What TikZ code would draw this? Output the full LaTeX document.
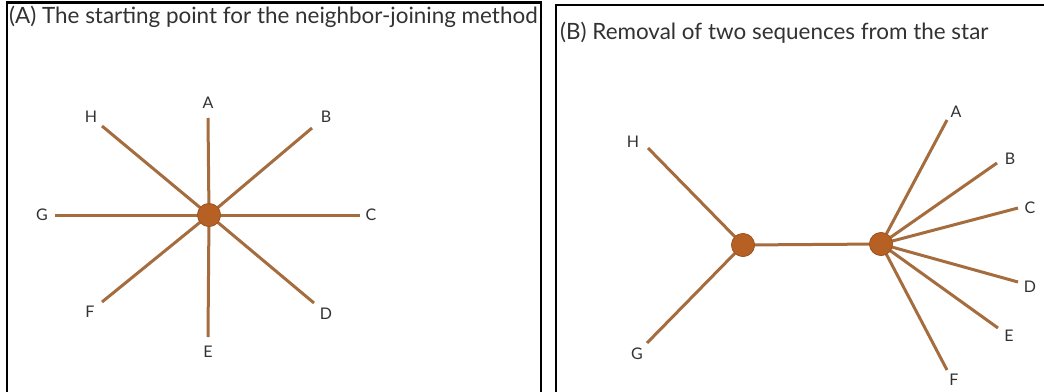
\documentclass[tikz,border=0pt]{standalone}
\usepackage{fontspec}
\setmainfont{Lato}
\definecolor{branch}{RGB}{165,108,62}
\definecolor{hub}{RGB}{183,96,36}
\definecolor{lbl}{RGB}{50,50,50}
\newlength\titlew
\settowidth\titlew{\fontsize{10}{12}\selectfont (A) The starting point for the neighbor-joining method}
\pgfmathsetmacro\titlefs{5285/\titlew}
\tikzset{
  edge/.style={draw=branch, line width=3pt},
  hubdot/.style={circle, fill=hub, draw=hub!85!black, line width=0.6pt, minimum size=23pt, inner sep=0pt},
  leaf/.style={text=lbl, font=\fontsize{16}{16}\selectfont, inner sep=0pt},
  paneltitle/.style={anchor=west, text=lbl, inner sep=0pt, font=\fontsize{\titlefs}{\titlefs}\selectfont},
  frame/.style={draw=black, line width=2.4pt},
}
\begin{document}
\begin{tikzpicture}[x=1pt,y=-1pt]
\useasboundingbox (0,0) rectangle (1044,391);
\fill[white] (0,0) rectangle (1044,391);
% frames
\draw[frame] (7,395) -- (7,2.5) -- (541,2.5) -- (541,395);
\draw[frame] (556,395) -- (556,5) -- (1050,5);
% titles
\node[paneltitle] (titleA) at (9,17) {(A) The starting point for the neighbor-joining method};
\node[paneltitle] (titleB) at (560,33) {(B) Removal of two sequences from the star};
% panel A
\node[hubdot] (c) at (209,215) {};
\coordinate (ta) at (208,118);
\coordinate (tb) at (312,128);
\coordinate (tc) at (360,215);
\coordinate (td) at (314,303);
\coordinate (te) at (208,337);
\coordinate (tf) at (102,302);
\coordinate (tg) at (55,215);
\coordinate (th) at (102,126);
\foreach \t in {ta,tb,tc,td,te,tf,tg,th}{ \draw[edge] (c.center) -- (\t); }
\node[hubdot] at (209,215) {};
\node[leaf] (la) at (208,103) {A};
\node[leaf] (lb) at (326,117) {B};
\node[leaf] (lc) at (371,215) {C};
\node[leaf] (ld) at (326,314) {D};
\node[leaf] (le) at (208,352) {E};
\node[leaf] (lf) at (90,312) {F};
\node[leaf] (lg) at (42,215) {G};
\node[leaf] (lh) at (91,117) {H};
% panel B
\node[hubdot] (l) at (743,245) {};
\node[hubdot] (r) at (881,244) {};
\coordinate (uh) at (648,148);
\coordinate (ug) at (647,343);
\coordinate (ua) at (947,120);
\coordinate (ub) at (997,163);
\coordinate (uc) at (1018,208);
\coordinate (ud) at (1018,282);
\coordinate (ue) at (998,328);
\coordinate (uf) at (947,370);
\draw[edge] (l.center) -- (uh);
\draw[edge] (l.center) -- (ug);
\draw[edge] (l.center) -- (r.center);
\foreach \t in {ua,ub,uc,ud,ue,uf}{ \draw[edge] (r.center) -- (\t); }
\node[hubdot] at (743,245) {};
\node[hubdot] at (881,244) {};
\node[leaf] (ma) at (956,112) {A};
\node[leaf] (mb) at (1010,159) {B};
\node[leaf] (mc) at (1030,208) {C};
\node[leaf] (md) at (1030,287) {D};
\node[leaf] (me) at (1009,336) {E};
\node[leaf] (mf) at (954,380) {F};
\node[leaf] (mh) at (633,142) {H};
\node[leaf] (mg) at (637,354) {G};
\end{tikzpicture}
\end{document}
